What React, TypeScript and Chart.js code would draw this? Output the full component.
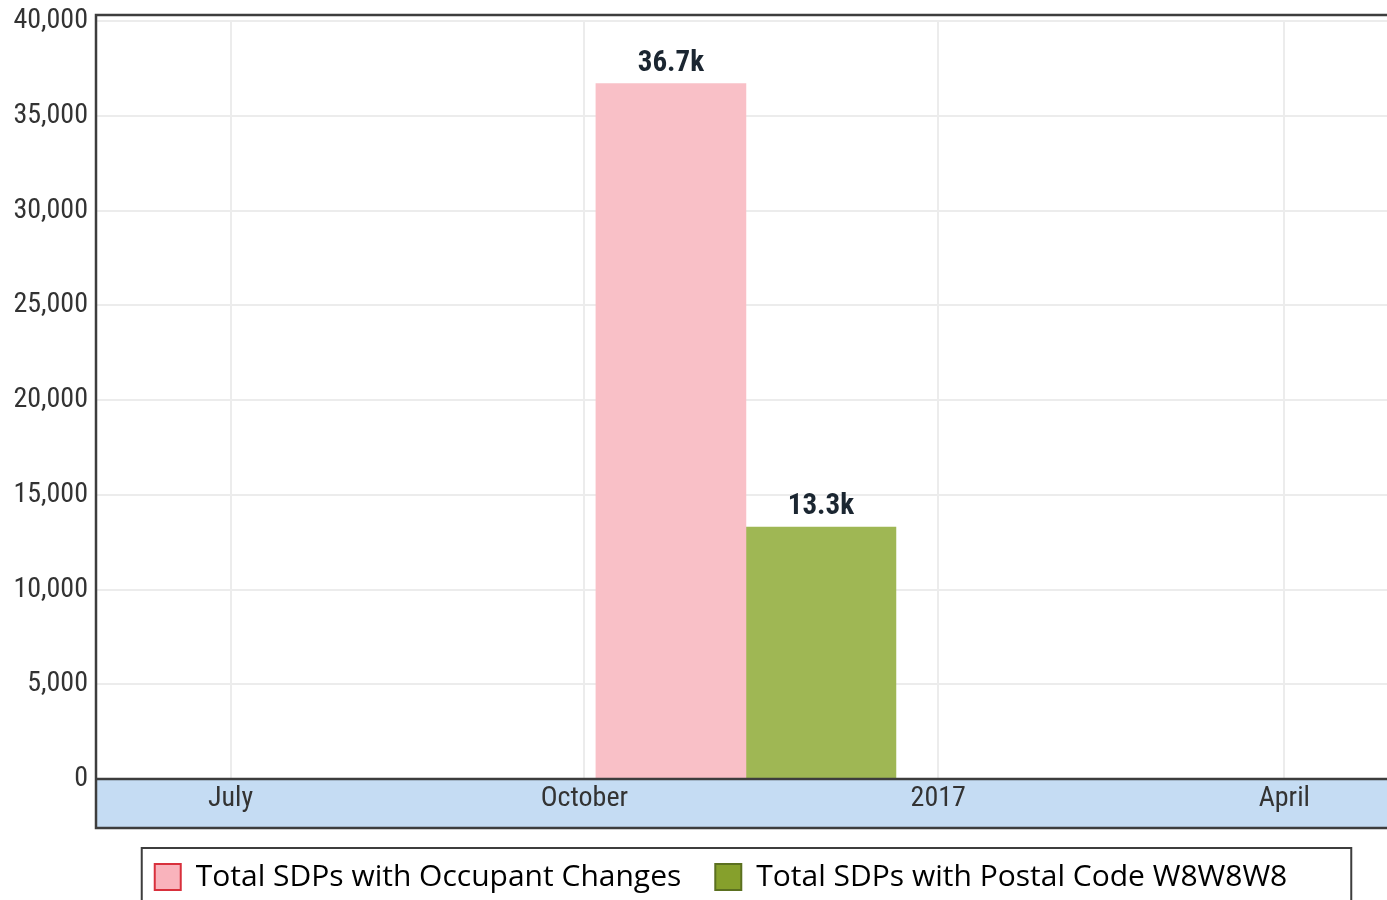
import React, { useEffect, useRef } from 'react';
import { Chart, registerables } from 'chart.js';

Chart.register(...registerables);

// ---- data ----
const seriesNames = ['Total SDPs with Occupant Changes', 'Total SDPs with Postal Code W8W8W8'];
const barDate = '2016-11-12';
const occupantChanges = [36700];
const postalCodeW8 = [13300];
const tickDates = ['2016-07-01', '2016-10-01', '2017-01-01', '2017-04-01'];
const tickLabels = ['July', 'October', '2017', 'April'];
const axisStart = '2016-05-27';
const axisEnd = '2017-05-12';
const yTicks = [0, 5000, 10000, 15000, 20000, 25000, 30000, 35000, 40000];

const epoch = Date.UTC(2016, 6, 1);
const toDay = (s: string) => {
  const [y, m, d] = s.split('-').map(Number);
  return Math.round((Date.UTC(y, m - 1, d) - epoch) / 86400000);
};

const NARROW = "'Roboto Condensed', 'Liberation Sans Narrow', sans-serif";

const barFill = ['rgba(249,192,199,1)', 'rgba(159,183,84,1)'];
const legendFill = ['#f9b3bc', '#86a02c'];
const legendStroke = ['#d8303c', '#5b7020'];

const framePlugin = {
  id: 'frame',
  afterDraw(chart: any) {
    const { ctx, chartArea } = chart;
    const xs = chart.scales.x;
    ctx.save();
    ctx.strokeStyle = '#3d3d3d';
    ctx.lineWidth = 2.5;
    ctx.strokeRect(chartArea.left, chartArea.top - 6, chartArea.right - chartArea.left, xs.bottom - chartArea.top + 6);
    ctx.beginPath();
    ctx.moveTo(chartArea.left, chartArea.bottom);
    ctx.lineTo(chartArea.right, chartArea.bottom);
    ctx.stroke();
    // legend frame
    const lg = chart.legend;
    if (lg && lg.legendHitBoxes && lg.legendHitBoxes.length) {
      const hb = lg.legendHitBoxes;
      const last = hb[hb.length - 1];
      const left = hb[0].left - 13;
      const right = last.left + last.width + 64;
      ctx.lineWidth = 2;
      ctx.strokeRect(left, lg.top + 20, right - left, 80);
    }
    ctx.restore();
  },
};

const labelPlugin = {
  id: 'valueLabels',
  afterDatasetsDraw(chart: any) {
    const { ctx } = chart;
    ctx.save();
    ctx.font = `bold 29px ${NARROW}`;
    ctx.fillStyle = '#1b2631';
    ctx.textAlign = 'center';
    ctx.textBaseline = 'alphabetic';
    chart.data.datasets.forEach((ds: any, i: number) => {
      const meta = chart.getDatasetMeta(i);
      meta.data.forEach((bar: any, j: number) => {
        const v = ds.data[j].y;
        ctx.fillText((v / 1000).toFixed(1) + 'k', bar.x, bar.y - 13);
      });
    });
    ctx.restore();
  },
};

export default function App() {
  const ref = useRef<HTMLCanvasElement>(null);
  useEffect(() => {
    if (!ref.current) return;
    const x0 = toDay(barDate);
    const tickDays = tickDates.map(toDay);
    const chart = new Chart(ref.current, {
      type: 'bar',
      data: {
        datasets: [
          {
            label: seriesNames[0],
            data: occupantChanges.map((v) => ({ x: x0, y: v })),
            backgroundColor: barFill[0],
            borderWidth: 0,
            barThickness: 150,
          },
          {
            label: seriesNames[1],
            data: postalCodeW8.map((v) => ({ x: x0, y: v })),
            backgroundColor: barFill[1],
            borderWidth: 0,
            barThickness: 150,
          },
        ],
      } as any,
      options: {
        animation: false,
        responsive: false,
        layout: { padding: { top: 21, right: 4, left: 0, bottom: 0 } },
        scales: {
          x: {
            type: 'linear',
            offset: false,
            min: toDay(axisStart),
            max: toDay(axisEnd),
            backgroundColor: '#c5dcf3',
            border: { display: false },
            grid: { color: '#ececec', lineWidth: 2, drawTicks: false, offset: false },
            afterBuildTicks(scale: any) {
              scale.ticks = tickDays.map((d) => ({ value: d }));
            },
            afterFit(scale: any) {
              scale.height = 49;
            },
            ticks: {
              autoSkip: false,
              maxRotation: 0,
              padding: 3,
              color: '#333',
              font: { family: NARROW, size: 28 },
              callback: (v: any) => {
                const i = tickDays.indexOf(Number(v));
                return i >= 0 ? tickLabels[i] : '';
              },
            },
          } as any,
          y: {
            min: 0,
            max: 40000,
            border: { display: false },
            grid: { color: '#ececec', lineWidth: 2, drawTicks: false },
            afterBuildTicks(scale: any) {
              scale.ticks = yTicks.map((v) => ({ value: v }));
            },
            afterFit(scale: any) {
              scale.width = 96;
            },
            ticks: {
              padding: 8,
              color: '#333',
              font: { family: NARROW, size: 28, lineHeight: 0.8 },
              callback: (v: any) => Number(v).toLocaleString('en-US'),
            },
          } as any,
        },
        plugins: {
          tooltip: { enabled: false },
          legend: {
            position: 'bottom',
            labels: {
              boxWidth: 26,
              boxHeight: 26,
              padding: 34,
              color: '#111',
              font: { family: "'Open Sans', sans-serif", size: 30 },
              generateLabels: (chart: any) =>
                chart.data.datasets.map((ds: any, i: number) => ({
                  text: ds.label,
                  fillStyle: legendFill[i],
                  strokeStyle: legendStroke[i],
                  lineWidth: 2,
                  datasetIndex: i,
                  hidden: false,
                })),
            },
          } as any,
        },
      },
      plugins: [framePlugin, labelPlugin],
    });
    return () => chart.destroy();
  }, []);
  return (
    <div style={{ position: 'fixed', left: 0, top: 0, width: 1387, height: 900, overflow: 'hidden', background: '#fff' }}>
      <canvas ref={ref} width={1446} height={902} style={{ display: 'block' }} />
    </div>
  );
}
